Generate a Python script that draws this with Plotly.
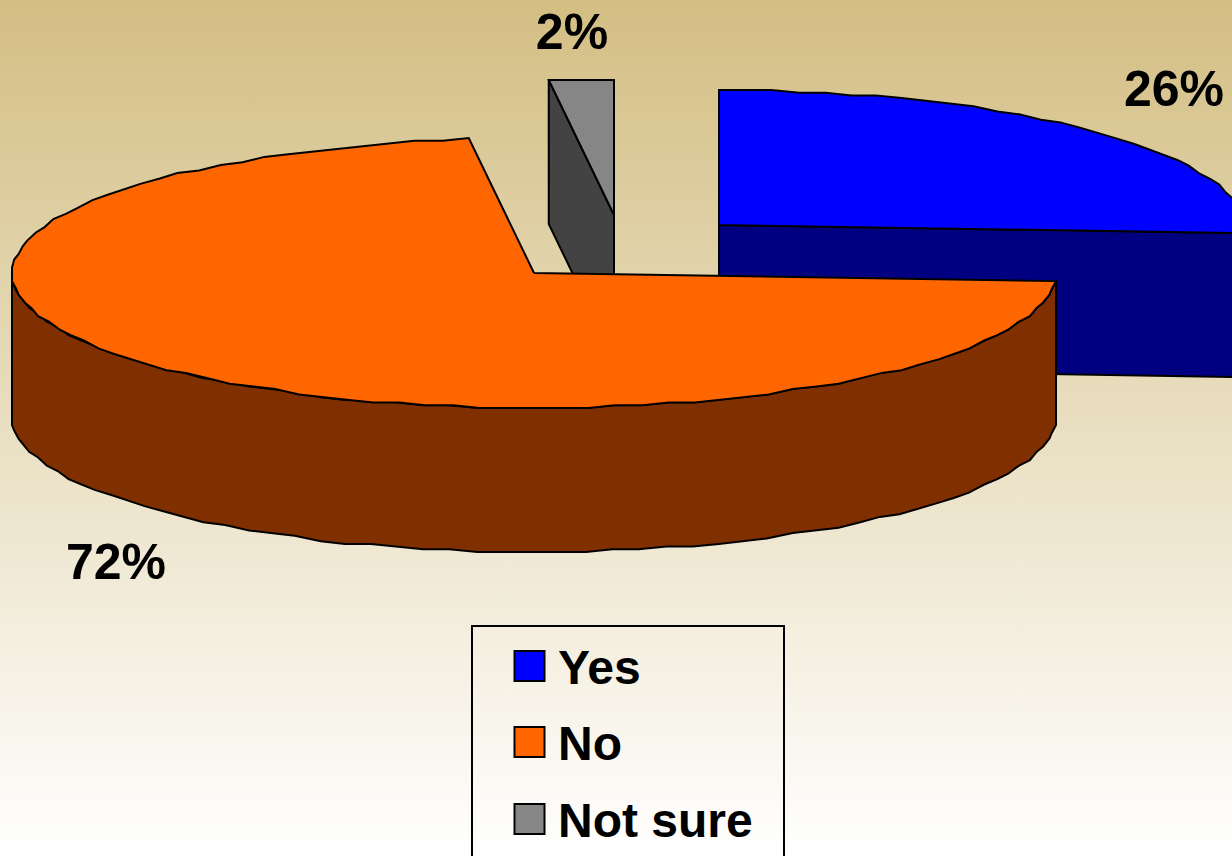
import math
import plotly.graph_objects as go

# ---- data ----
categories = ["Yes", "No", "Not sure"]
values = [26, 72, 2]
value_labels = ["26%", "72%", "2%"]
top_colors = ["#0000FF", "#FF6600", "#868686"]
side_colors = ["#000080", "#803000", "#434343"]

# ---- layout of the fake 3D pie, in page pixels ----
W, H = 1232, 856
RX, RY, DEPTH = 522, 135, 144
CENTERS = [(719, 225), (534, 273), (614, 215)]
LABEL_POS = [(1174, 93), (116, 566), (572, 36)]
LEGEND_BOX = (472, 626, 784, 880)
LEGEND_X, LEGEND_Y = 529.5, [666, 742, 819]
LEGEND_TEXT_X = 558
LEGEND_TEXT_Y = [672, 748, 825]
STEP = 3.0
GX, GY = 2.175, 2.7   # the source was drawn on a coarse grid, which gives its slightly rough curves
OUT = "#000000"
FONT = "Liberation Sans"


def pt(c, a, dz=0):
    """a: degrees clockwise from 12 o'clock."""
    r = math.radians(a)
    dx = round(RX * math.sin(r) / GX) * GX
    dy = round(RY * math.cos(r) / GY) * GY
    return c[0] + dx, c[1] - dy + dz


def arc(c, a0, a1, dz=0):
    n = max(1, int(math.ceil(abs(a1 - a0) / STEP)))
    return [pt(c, a0 + (a1 - a0) * i / n, dz) for i in range(n + 1)]


def poly(fig, pts, color, width=2):
    xs = [p[0] for p in pts] + [pts[0][0]]
    ys = [p[1] for p in pts] + [pts[0][1]]
    fig.add_trace(go.Scatter(x=xs, y=ys, mode="lines", fill="toself", fillcolor=color,
                             line=dict(color=OUT, width=width), hoverinfo="skip",
                             showlegend=False))


# slice angles from the values
angles = []
start = 0.0
for v in values:
    end = start + 360.0 * v / sum(values)
    angles.append((start, end))
    start = end

fig = go.Figure()

# page background gradient
fig.add_trace(go.Scatter(
    x=[0, W, W, 0, 0], y=[0, 0, H, H, 0], mode="lines", line=dict(width=0), fill="toself",
    fillgradient=dict(type="vertical", colorscale=[[0, "#FFFFFF"], [1, "#D3BE83"]]),
    hoverinfo="skip", showlegend=False))


def draw_slice(i):
    c = CENTERS[i]
    a0, a1 = angles[i]
    # radial face along the trailing edge of Yes, leading edge of Not sure
    if i == 0:
        e = pt(c, a1)
        poly(fig, [c, e, (e[0], e[1] + DEPTH), (c[0], c[1] + DEPTH)], side_colors[i])
    if i == 2:
        e = pt(c, a0)
        poly(fig, [c, e, (e[0], e[1] + DEPTH), (c[0], c[1] + DEPTH)], side_colors[i])
    # outer wall, front half only
    lo, hi = max(a0, 90.0), min(a1, 270.0)
    if hi > lo:
        poly(fig, arc(c, lo, hi) + arc(c, hi, lo, DEPTH), side_colors[i])
    # top face
    poly(fig, [c] + arc(c, a0, a1), top_colors[i])


for i in (2, 0, 1):
    draw_slice(i)

# value labels
fig.add_trace(go.Scatter(
    x=[p[0] for p in LABEL_POS], y=[p[1] for p in LABEL_POS], mode="text", text=value_labels,
    textposition="middle center", hoverinfo="skip", showlegend=False,
    textfont=dict(family=FONT, size=50, color="#000000", weight="bold")))

# legend
fig.add_trace(go.Scatter(
    x=[LEGEND_X] * len(categories), y=LEGEND_Y, mode="markers", hoverinfo="skip", showlegend=False,
    marker=dict(symbol="square", size=30, color=top_colors, line=dict(color=OUT, width=2))))
fig.add_trace(go.Scatter(
    x=[LEGEND_TEXT_X] * len(categories), y=LEGEND_TEXT_Y, mode="text", text=categories,
    textposition="middle right", hoverinfo="skip", showlegend=False,
    textfont=dict(family=FONT, size=48, color="#000000", weight="bold")))

fig.update_layout(
    width=W, height=H, margin=dict(l=0, r=0, t=0, b=0), autosize=False,
    paper_bgcolor="#FFFFFF", plot_bgcolor="#FFFFFF", showlegend=False,
    xaxis=dict(range=[0, W], visible=False, fixedrange=True),
    yaxis=dict(range=[H, 0], visible=False, fixedrange=True),
    shapes=[dict(type="rect", xref="x", yref="y", x0=LEGEND_BOX[0], y0=LEGEND_BOX[1],
                 x1=LEGEND_BOX[2], y1=LEGEND_BOX[3], line=dict(color=OUT, width=2))],
)

fig.write_html("out.html", config={"displayModeBar": False},
               post_script="document.body.style.margin='0';document.body.style.overflow='hidden';")
